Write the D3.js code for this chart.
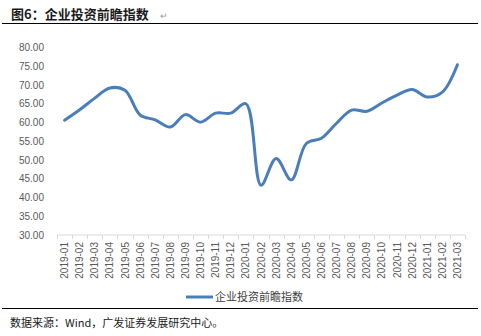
<!DOCTYPE html>
<html>
<head>
<meta charset="utf-8">
<script src="https://cdn.jsdelivr.net/npm/d3@7"></script>
<style>
  html, body { margin: 0; padding: 0; background: #fff; }
  svg { display: block; }
</style>
</head>
<body>
<svg id="chart" width="481" height="336"></svg>
<script>
// Monthly periods on the category axis
const months = [
  "2019-01","2019-02","2019-03","2019-04","2019-05","2019-06","2019-07","2019-08","2019-09",
  "2019-10","2019-11","2019-12","2020-01","2020-02","2020-03","2020-04","2020-05","2020-06",
  "2020-07","2020-08","2020-09","2020-10","2020-11","2020-12","2021-01","2021-02","2021-03"
];
// 企业投资前瞻指数
const indexValues = [
  60.6, 63.4, 66.5, 69.2, 68.6, 62.0, 60.7, 58.8, 62.1,
  60.1, 62.5, 62.5, 65.0, 43.3, 50.4, 44.7, 54.4, 55.8,
  59.8, 63.3, 63.0, 65.2, 67.3, 68.8, 66.8, 68.1, 75.4
];
const yTicks = [30, 35, 40, 45, 50, 55, 60, 65, 70, 75, 80];
const seriesName = "企业投资前瞻指数";
const titleText = "图6：企业投资前瞻指数";
const sourceText = "数据来源：Wind，广发证券发展研究中心。";

const svg = d3.select("#chart");
const cjk = "'Noto Sans CJK SC', 'Noto Sans', sans-serif";
const latin = "'Liberation Sans', Arial, sans-serif";

// Header and footer rules
svg.append("text")
  .attr("x", 11).attr("y", 19)
  .attr("font-family", cjk).attr("font-weight", "bold")
  .attr("font-size", 13).attr("fill", "#1a1a1a")
  .text(titleText);
svg.append("text")
  .attr("x", 160).attr("y", 19)
  .attr("font-family", latin).attr("font-size", 9).attr("fill", "#999")
  .text("↵");
svg.append("line")
  .attr("x1", 2).attr("x2", 478).attr("y1", 23.5).attr("y2", 23.5)
  .attr("stroke", "#000").attr("stroke-width", 1);
svg.append("line")
  .attr("x1", 2).attr("x2", 478).attr("y1", 308.5).attr("y2", 308.5)
  .attr("stroke", "#000").attr("stroke-width", 1);
svg.append("text")
  .attr("x", 10).attr("y", 327)
  .attr("font-family", cjk).attr("font-size", 11).attr("fill", "#1a1a1a")
  .text(sourceText);

// Scales
const x = d3.scaleBand().domain(months).range([57, 465]);
const y = d3.scaleLinear().domain([30, 80]).range([235, 47.5]);

// Y axis (labels only)
const yAxis = svg.append("g")
  .attr("transform", "translate(47,0)")
  .call(d3.axisLeft(y).tickValues(yTicks).tickFormat(d3.format(".2f")).tickSize(0));
yAxis.select(".domain").remove();
yAxis.selectAll("text")
  .attr("font-family", latin).attr("font-size", 10).attr("fill", "#595959")
  .attr("x", -3);

// X axis: light baseline with ticks at category boundaries
const xg = svg.append("g").attr("transform", "translate(0,235)");
xg.append("line")
  .attr("x1", x.range()[0]).attr("x2", x.range()[1])
  .attr("stroke", "#d9d9d9").attr("stroke-width", 1);
const bounds = months.map(m => x(m)).concat([x.range()[1]]);
xg.selectAll("line.tick").data(bounds).join("line")
  .attr("class", "tick")
  .attr("x1", d => Math.round(d) + 0.5).attr("x2", d => Math.round(d) + 0.5)
  .attr("y1", 0).attr("y2", 4)
  .attr("stroke", "#d9d9d9");
xg.selectAll("text").data(months).join("text")
  .attr("transform", d => `translate(${x(d) + x.bandwidth() / 2 + 3.5},7) rotate(-90)`)
  .attr("text-anchor", "end")
  .attr("font-family", latin).attr("font-size", 10).attr("fill", "#595959")
  .text(d => d);

// Index line
const line = d3.line()
  .x((d, i) => x(months[i]) + x.bandwidth() / 2)
  .y(d => y(d))
  .curve(d3.curveCatmullRom.alpha(0.5));
svg.append("path")
  .datum(indexValues)
  .attr("d", line)
  .attr("fill", "none")
  .attr("stroke", "#4a7ebb")
  .attr("stroke-width", 3)
  .attr("stroke-linejoin", "round")
  .attr("stroke-linecap", "round");

// Legend
svg.append("line")
  .attr("x1", 186).attr("x2", 213).attr("y1", 297).attr("y2", 297)
  .attr("stroke", "#4a7ebb").attr("stroke-width", 3);
svg.append("text")
  .attr("x", 215).attr("y", 301)
  .attr("font-family", cjk).attr("font-size", 11).attr("fill", "#404040")
  .text(seriesName);
</script>
</body>
</html>
